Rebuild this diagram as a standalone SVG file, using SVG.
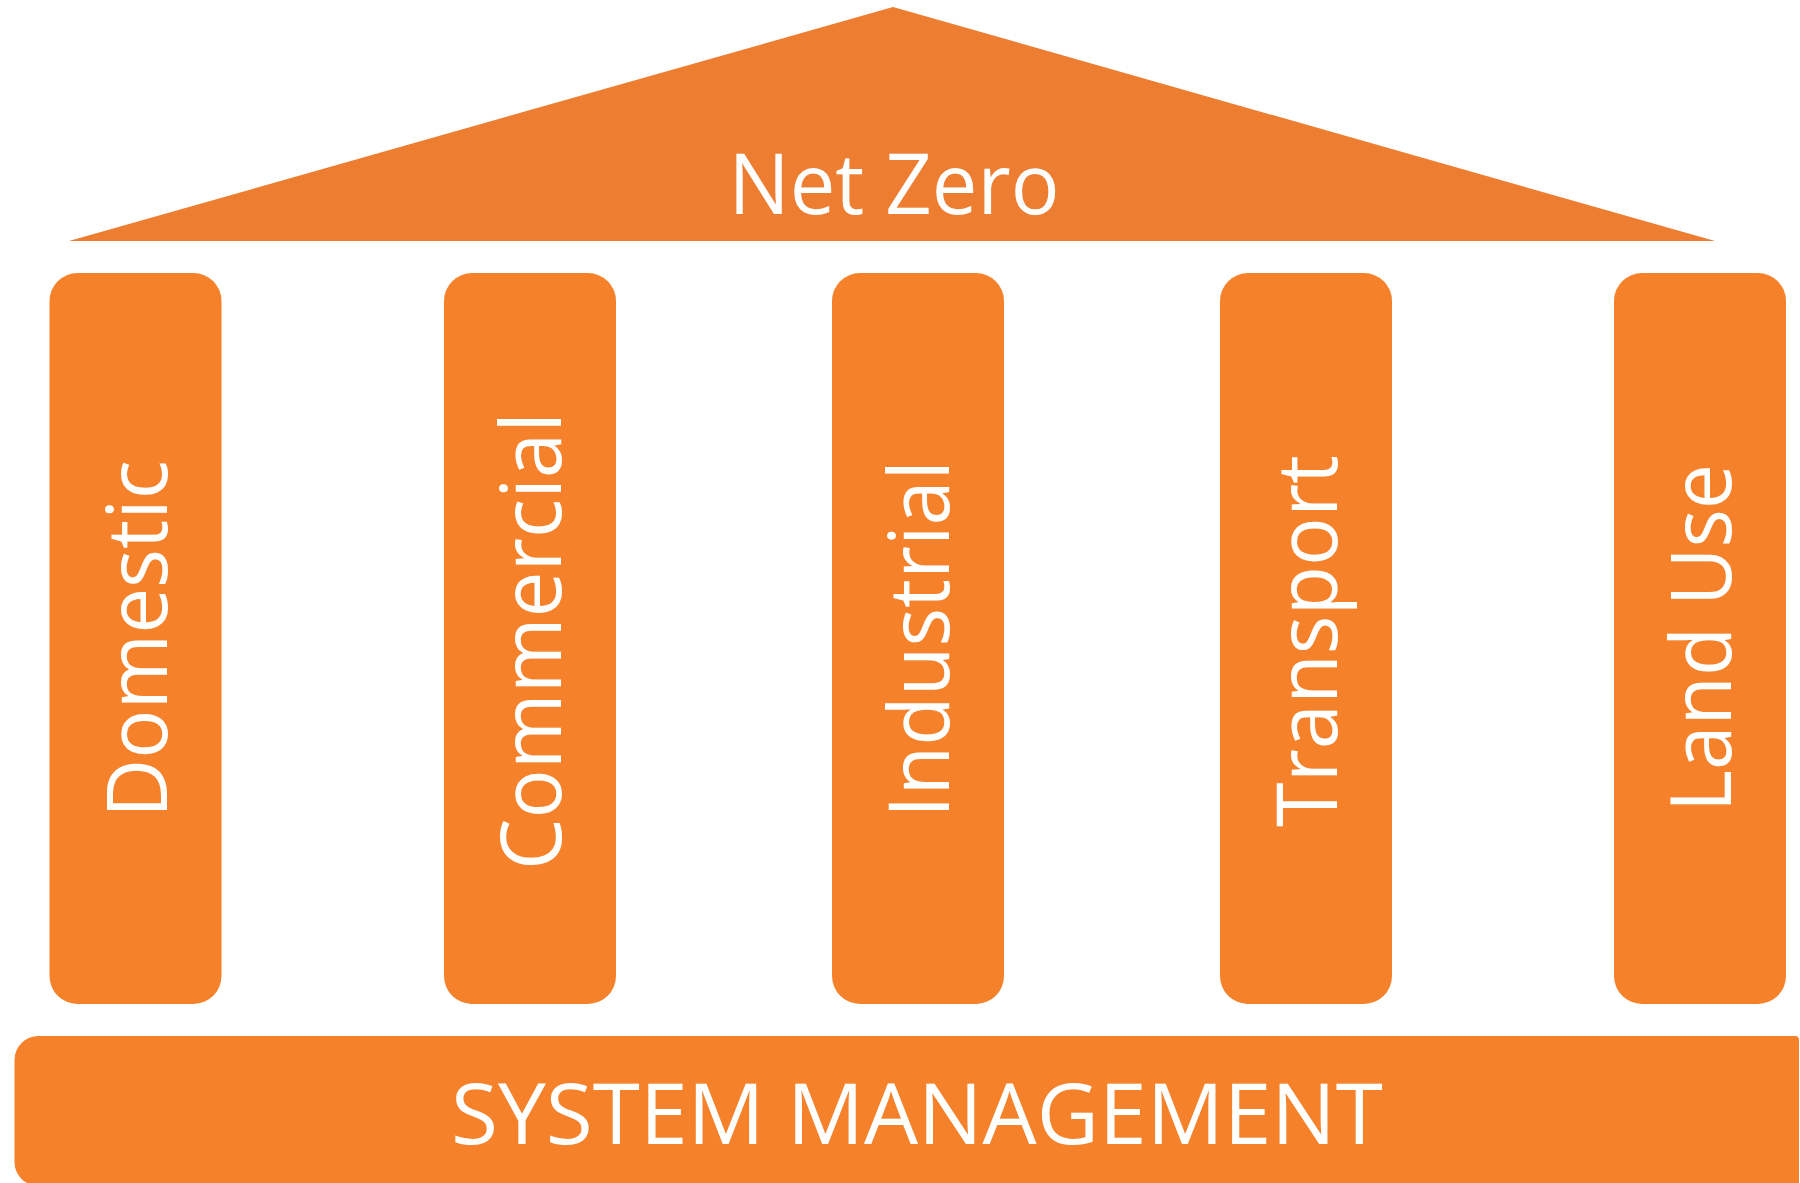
<svg xmlns="http://www.w3.org/2000/svg" width="1800" height="1183" viewBox="0 0 1800 1183">
  <style>
    .roof { fill: #ED7D31; }
    .block { fill: #F5822A; }
    .label { fill: #FFFFFF; font-family: "Open Sans", "Noto Sans", "Liberation Sans", sans-serif; font-size: 84px; text-anchor: middle; }
  </style>
  <defs>
    <!-- one pillar shape, placed by translate -->
    <rect id="pillar-shape" x="0" y="0" width="172" height="731" rx="28" ry="28"/>
  </defs>
  <rect width="1800" height="1183" fill="#FFFFFF"/>

  <!-- roof -->
  <g id="roof">
    <polygon class="roof" points="69,241 893,7 1715,241"/>
    <text class="label" x="894" y="214" textLength="331" lengthAdjust="spacingAndGlyphs">Net Zero</text>
  </g>

  <!-- pillars -->
  <g id="pillar-domestic">
    <use href="#pillar-shape" class="block" x="49.5" y="273"/>
    <text class="label" transform="translate(135.5,639) rotate(-90)" x="0" y="31" textLength="358" lengthAdjust="spacingAndGlyphs">Domestic</text>
  </g>
  <g id="pillar-commercial">
    <use href="#pillar-shape" class="block" x="444" y="273"/>
    <text class="label" transform="translate(530,641) rotate(-90)" x="0" y="31" textLength="458" lengthAdjust="spacingAndGlyphs">Commercial</text>
  </g>
  <g id="pillar-industrial">
    <use href="#pillar-shape" class="block" x="832" y="273"/>
    <text class="label" transform="translate(918,639) rotate(-90)" x="0" y="31" textLength="358" lengthAdjust="spacingAndGlyphs">Industrial</text>
  </g>
  <g id="pillar-transport">
    <use href="#pillar-shape" class="block" x="1220" y="273"/>
    <text class="label" transform="translate(1306,641) rotate(-90)" x="0" y="31" textLength="372" lengthAdjust="spacingAndGlyphs">Transport</text>
  </g>
  <g id="pillar-land-use">
    <use href="#pillar-shape" class="block" x="1614" y="273"/>
    <text class="label" transform="translate(1700,638) rotate(-90)" x="0" y="31" textLength="348" lengthAdjust="spacingAndGlyphs">Land Use</text>
  </g>

  <!-- foundation -->
  <g id="system-management">
    <path class="block" d="M14.5,1060 A24,24 0 0 1 38.5,1036 H1795 A4,4 0 0 1 1799,1040 V1186 H38.5 A24,24 0 0 1 14.5,1162 Z"/>
    <text class="label" x="917" y="1144" textLength="932" lengthAdjust="spacingAndGlyphs">SYSTEM MANAGEMENT</text>
  </g>
</svg>
